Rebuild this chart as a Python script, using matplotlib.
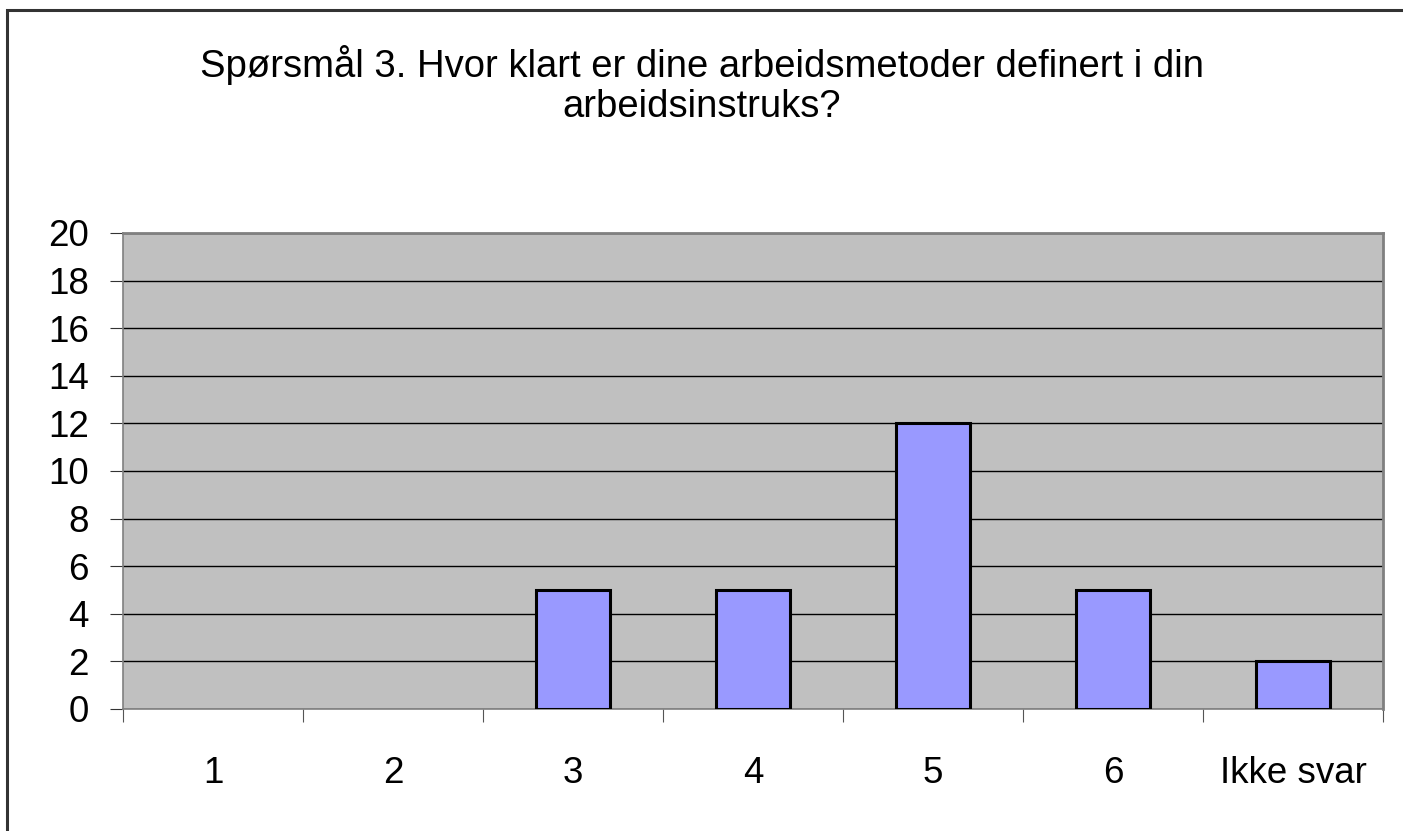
import matplotlib
matplotlib.use("Agg")
import matplotlib.pyplot as plt
from matplotlib.patches import Rectangle
import numpy as np

plt.rcParams['font.family'] = ['Liberation Sans', 'DejaVu Sans']

# data
kategorier = ['1', '2', '3', '4', '5', '6', 'Ikke svar']
antall = [0, 0, 5, 5, 12, 5, 2]
y_ticks = list(range(0, 21, 2))

W, H = 1403, 831
fig = plt.figure(figsize=(W / 100, H / 100), dpi=100)

# ramme rundt hele figuren
fig.patches.append(Rectangle((7 / W, 0 - 0.01), 1.02, 1 - 10 / H + 0.01,
                             transform=fig.transFigure, fill=False,
                             edgecolor='#333333', linewidth=2.2))

ax = fig.add_axes([123 / W, 1 - 709 / H, (1383 - 123) / W, (709 - 233) / H])
ax.set_facecolor('#c0c0c0')

x = np.arange(len(kategorier))
kanter = ['black' if v > 0 else 'none' for v in antall]
ax.bar(x, antall, width=0.41, color='#9999ff', edgecolor=kanter,
       linewidth=2.2, zorder=3)

ax.set_xlim(-0.5, len(kategorier) - 0.5)
ax.set_ylim(0, 20)
ax.set_yticks(y_ticks)
ax.set_yticklabels([str(v) for v in y_ticks], fontsize=26.5)
ax.yaxis.grid(True, color='black', linewidth=1)
ax.set_axisbelow(True)

# kategorier mellom tick-strekene
ax.set_xticks(np.arange(len(kategorier) + 1) - 0.5)
ax.set_xticklabels([])
ax.set_xticks(x, minor=True)
ax.set_xticklabels(kategorier, minor=True, fontsize=26.5)
ax.tick_params(axis='x', which='minor', length=0, pad=34)
ax.tick_params(axis='x', which='major', length=9.5, color='#555555')
ax.tick_params(axis='y', length=9.5, color='#333333', pad=15)

for s in ['top', 'right']:
    ax.spines[s].set_color('#808080')
    ax.spines[s].set_linewidth(2)
ax.spines['left'].set_color('#808080')
ax.spines['bottom'].set_color('#808080')
ax.spines['left'].set_linewidth(1.2)
ax.spines['bottom'].set_linewidth(1.2)

fig.text(0.5, 1 - 85 / H,
         'Spørsmål 3. Hvor klart er dine arbeidsmetoder definert i din\narbeidsinstruks?',
         ha='center', va='center', fontsize=27.5, linespacing=1.12)

fig.savefig('out.png', dpi=100)
